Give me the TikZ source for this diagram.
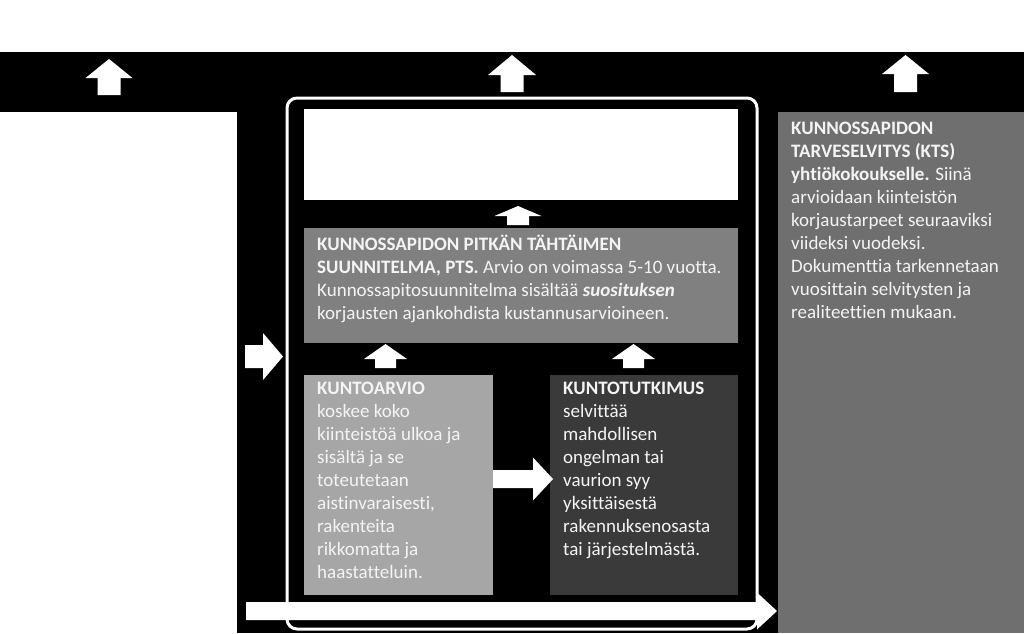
\documentclass[tikz,border=0pt]{standalone}
\usepackage{fontspec}
\setmainfont{Carlito}[Ligatures={NoCommon}]
\usetikzlibrary{calc}
\definecolor{ptsgray}{HTML}{808080}
\definecolor{ktsgray}{HTML}{6F6F6F}
\definecolor{kagray}{HTML}{A6A6A6}
\definecolor{ktgray}{HTML}{3A3A3A}
\definecolor{txtwhite}{HTML}{F4F4F4}
% block arrow: tail point, rotation, length, shaft half width, head half width, head length
\newcommand\blockarrow[6]{\fill[white,shift={#1},rotate=#2](0,-#4)--(#3-#6,-#4)--(#3-#6,-#5)--(#3,0)--(#3-#6,#5)--(#3-#6,#4)--(0,#4)--cycle;}
\tikzset{boxtext/.style={anchor=north west,inner sep=0pt,align=left,text=txtwhite,font=\fontsize{19}{23}\selectfont,execute at begin node=\strut}}
\begin{document}
\begin{tikzpicture}[x=1pt,y=-1pt]
\useasboundingbox(0,0)rectangle(1024,633);
\fill[white](0,0)rectangle(1024,52);\fill[black](0,52)rectangle(1024,633);
\fill[white](0,112)rectangle(237,633);
\draw[white,line width=3pt,rounded corners=10pt](287,98)rectangle(757,629);
\fill[white](304,109)rectangle(738,200);
\fill[ptsgray](304,228)rectangle(738,343);\fill[kagray](304,375)rectangle(493,595);\fill[ktgray](550,375)rectangle(738,595);
\fill[ktsgray](778,112)rectangle(1024,633);
\node[boxtext](pts)at(317,235){\textbf{KUNNOSSAPIDON PITKÄN TÄHTÄIMEN}\\\textbf{SUUNNITELMA, PTS.} Arvio on voimassa 5-10 vuotta.\\Kunnossapitosuunnitelma sisältää \textbf{\textit{suosituksen}}\\korjausten ajankohdista kustannusarvioineen.};
\node[boxtext](kts)at(791,122){\textbf{KUNNOSSAPIDON}\\\textbf{TARVESELVITYS (KTS)}\\\textbf{yhtiökokoukselle.} Siinä\\arvioidaan kiinteistön\\korjaustarpeet seuraaviksi\\viideksi vuodeksi.\\Dokumenttia tarkennetaan\\vuosittain selvitysten ja\\realiteettien mukaan.};
\node[boxtext](ka)at(317,382){\textbf{KUNTOARVIO}\\koskee koko\\kiinteistöä ulkoa ja\\sisältä ja se\\toteutetaan\\aistinvaraisesti,\\rakenteita\\rikkomatta ja\\haastatteluin.};
\node[boxtext](kt)at(563,382){\textbf{KUNTOTUTKIMUS}\\selvittää\\mahdollisen\\ongelman tai\\vaurion syy\\yksittäisestä\\rakennuksenosasta\\tai järjestelmästä.};
\blockarrow{(109,95)}{90}{36}{11.5}{23.5}{19}\blockarrow{(512,92)}{90}{37}{11.5}{24}{20}\blockarrow{(905.5,92)}{90}{37}{11.5}{23.5}{19}
\blockarrow{(518,225)}{90}{19}{11}{23.5}{10}
\blockarrow{(385.5,368)}{90}{24}{10.5}{21.5}{15}\blockarrow{(633.5,368)}{90}{24}{10.5}{21.5}{15}
\blockarrow{(245,356.5)}{0}{38}{11.5}{23.5}{20}
\blockarrow{(493,479)}{0}{60}{9}{21.5}{20}
\blockarrow{(246,611)}{0}{531}{9}{18.5}{20}
\end{tikzpicture}
\end{document}
